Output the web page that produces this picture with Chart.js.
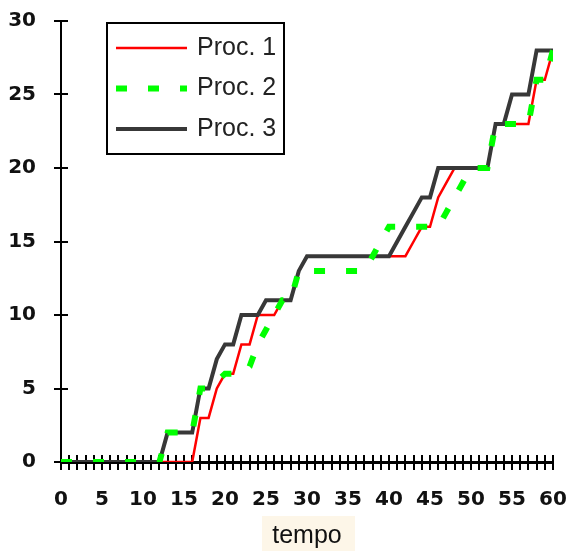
<!DOCTYPE html>
<html>
<head>
<meta charset="utf-8">
<script src="https://cdn.jsdelivr.net/npm/chart.js@4.4.0/dist/chart.umd.min.js"></script>
<style>
    html, body { margin: 0; padding: 0; background: #fff; }
    #wrap { width: 566px; height: 551px; }
</style>
</head>
<body>
<div id="wrap"><canvas id="chart" width="566" height="551"></canvas></div>
<script>
// 時間 (x軸)
const tempo = [0,1,2,3,4,5,6,7,8,9,10,11,12,13,14,15,16,17,18,19,20,
    21,22,23,24,25,26,27,28,29,30,31,32,33,34,35,36,37,38,39,40,
    41,42,43,44,45,46,47,48,49,50,51,52,53,54,55,56,57,58,59,60];

// 各プロセスの値
const proc1 = [0,0,0,0,0, 0,0,0,0,0, 0,0,0,0,0, 0,0,3,3,5, 6,6,8,8,10,
    10,10,11,11,13, 14,14,14,14,14, 14,14,14,14,14, 14,14,14,15,16,
    16,18,19,20,20, 20,20,20,23,23, 23,23,23,26,26, 28];
const proc2 = [0,0,0,0,0, 0,0,0,0,0, 0,0,0,2,2, 2,2,5,5,5.5, 6,6,6,6.5,8,
    9,10,11,11,13, 13,13,13,13,13, 13,13,13,14,15, 16,16,16,16,16,
    16,16,17,18,19, 20,20,20,23,23, 23,23,23,26,26, 28];
const proc3 = [0,0,0,0,0, 0,0,0,0,0, 0,0,0,2,2, 2,2,5,5,7, 8,8,10,10,10,
    11,11,11,11,13, 14,14,14,14,14, 14,14,14,14,14, 14,15,16,17,18,
    18,20,20,20,20, 20,20,20,23,23, 25,25,25,28,28, 28];

const seriesLabels = ['Proc. 1', 'Proc. 2', 'Proc. 3'];

Chart.defaults.font.family = '"DejaVu Sans", sans-serif';
Chart.defaults.color = '#111';

function toPoints(values) {
    return tempo.map((t, i) => ({ x: t, y: values[i] }));
}

// 軸をまたぐ目盛り線
const axisTicks = {
    id: 'axisTicks',
    beforeDatasetsDraw(chart) {
        const { ctx, scales: { x, y } } = chart;
        ctx.save();
        ctx.strokeStyle = '#000';
        ctx.lineWidth = 2;
        ctx.beginPath();
        x.ticks.forEach(t => {
            const px = Math.round(x.getPixelForValue(t.value));
            ctx.moveTo(px, x.top - 7);
            ctx.lineTo(px, x.top + 8);
        });
        y.ticks.forEach(t => {
            const py = Math.round(y.getPixelForValue(t.value));
            ctx.moveTo(y.right - 7, py);
            ctx.lineTo(y.right + 7, py);
        });
        ctx.stroke();
        ctx.restore();
    }
};

// タイトルの背景
const titleBg = {
    id: 'titleBg',
    beforeDraw(chart) {
        const { ctx } = chart;
        const x = chart.scales.x;
        const cx = (x.left + x.right) / 2;
        ctx.save();
        ctx.fillStyle = '#fdf6e8';
        ctx.fillRect(cx - 45, 516, 93, 35);
        ctx.restore();
    }
};

// 枠付きの凡例
const legendBox = {
    id: 'legendBox',
    afterDraw(chart) {
        const { ctx, chartArea } = chart;
        const left = chartArea.left + 46;
        const top = chartArea.top + 2;
        ctx.save();
        ctx.fillStyle = '#fff';
        ctx.fillRect(left, top, 177, 131);
        ctx.strokeStyle = '#000';
        ctx.lineWidth = 2;
        ctx.strokeRect(left, top, 177, 131);
        chart.data.datasets.forEach((ds, i) => {
            const yy = top + 25 + i * 40.5;
            ctx.beginPath();
            ctx.setLineDash(ds.borderDash || []);
            ctx.lineWidth = ds.borderWidth;
            ctx.strokeStyle = ds.borderColor;
            ctx.moveTo(left + 9, yy);
            ctx.lineTo(left + 80, yy);
            ctx.stroke();
            ctx.setLineDash([]);
            ctx.fillStyle = '#222';
            ctx.font = '25px "Liberation Sans", Arial, sans-serif';
            ctx.textBaseline = 'middle';
            ctx.fillText(ds.label, left + 90, yy);
        });
        ctx.restore();
    }
};

new Chart(document.getElementById('chart'), {
    type: 'line',
    data: {
        datasets: [
            {
                label: seriesLabels[0],
                data: toPoints(proc1),
                borderColor: '#ff0000',
                borderWidth: 2.5,
                pointRadius: 0,
                order: 3
            },
            {
                label: seriesLabels[1],
                data: toPoints(proc2),
                borderColor: '#00ff00',
                borderWidth: 6,
                borderDash: [11, 21],
                pointRadius: 0,
                order: 1
            },
            {
                label: seriesLabels[2],
                data: toPoints(proc3),
                borderColor: '#383838',
                borderWidth: 4,
                pointRadius: 0,
                order: 2
            }
        ]
    },
    options: {
        responsive: false,
        animation: false,
        devicePixelRatio: 1,
        layout: { padding: { top: 21, right: 13, left: 0, bottom: 0 } },
        elements: { line: { tension: 0, fill: false } },
        plugins: {
            legend: { display: false },
            tooltip: { enabled: false }
        },
        scales: {
            x: {
                type: 'linear',
                min: 0,
                max: 60,
                grid: { drawOnChartArea: false, drawTicks: false },
                border: { display: true, color: '#000', width: 3 },
                ticks: {
                    stepSize: 1,
                    autoSkip: false,
                    maxRotation: 0,
                    padding: 26,
                    font: { size: 20, weight: 'bold' },
                    callback: v => (v % 5 === 0 ? v : '')
                },
                title: {
                    display: true,
                    text: 'tempo',
                    font: { size: 25, family: '"Liberation Sans", Arial, sans-serif' },
                    padding: { top: 0, bottom: 0 }
                },
                afterFit(s) {
                    s.height = 89;
                    s.paddingLeft = 0;
                    s.paddingRight = 0;
                }
            },
            y: {
                min: 0,
                max: 30,
                grid: { drawOnChartArea: false, drawTicks: false },
                border: { display: true, color: '#000', width: 2 },
                ticks: {
                    stepSize: 5,
                    padding: 25,
                    font: { size: 20, weight: 'bold' }
                },
                afterFit(s) {
                    s.width = 61;
                    s.paddingTop = 0;
                    s.paddingBottom = 0;
                }
            }
        }
    },
    plugins: [titleBg, axisTicks, legendBox]
});
</script>
</body>
</html>
